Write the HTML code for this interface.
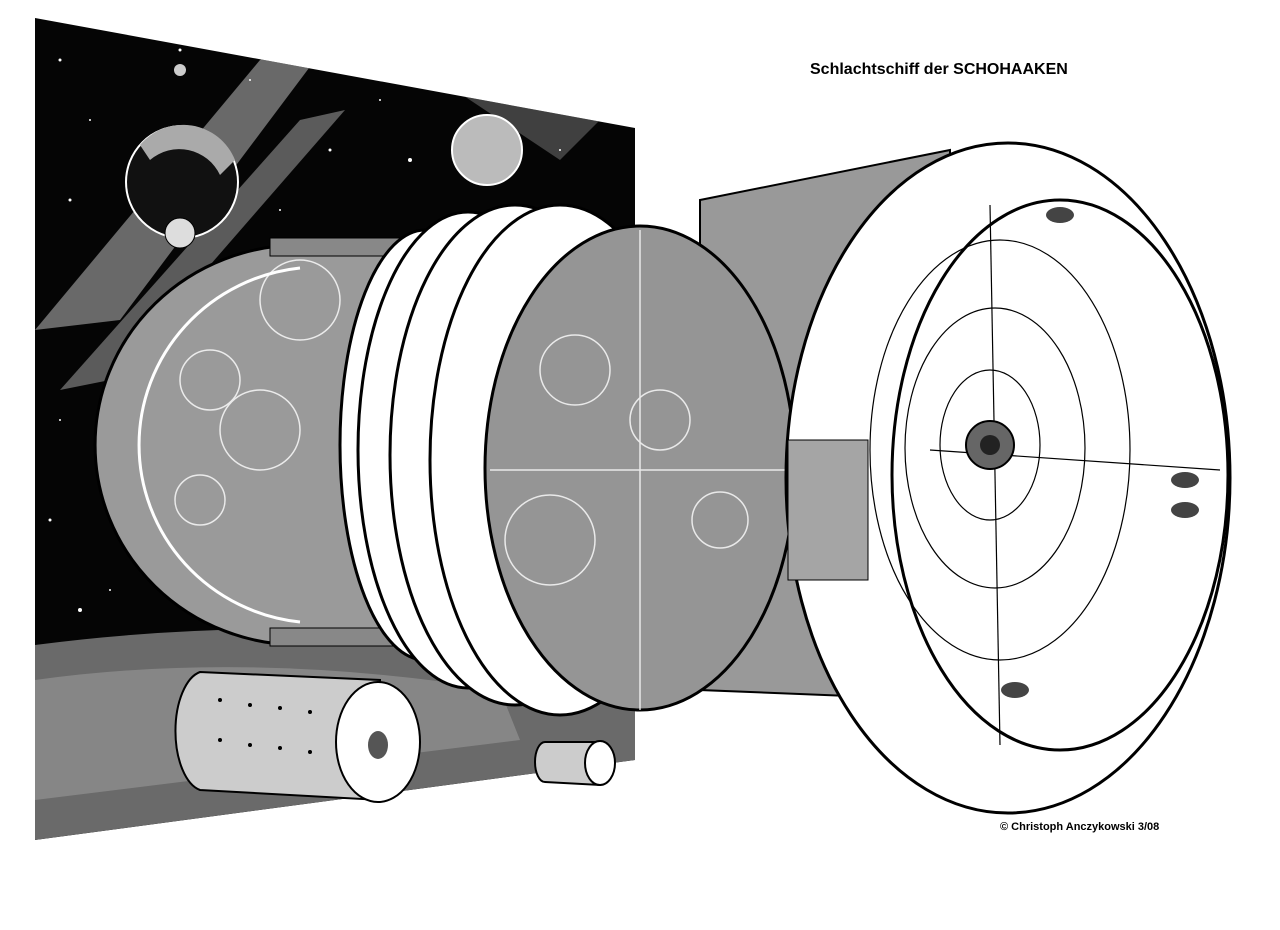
<!DOCTYPE html>
<html><head><meta charset="utf-8"><style>
html,body{margin:0;padding:0;background:#fff;width:1280px;height:930px;overflow:hidden}
svg{display:block}
text{font-family:"Liberation Sans",sans-serif;font-weight:bold;fill:#000}
</style></head><body>
<svg width="1280" height="930" viewBox="0 0 1280 930" xmlns="http://www.w3.org/2000/svg">
<defs><clipPath id="sp"><polygon points="35,18 635,128 635,760 35,840"/></clipPath></defs>
<rect width="1280" height="930" fill="#fff"/>
<polygon points="35,18 635,128 635,760 35,840" fill="#050505"/>
<g clip-path="url(#sp)">
<path d="M35,330 L260,60 L330,40 L120,320 Z" fill="#bbb" opacity="0.55"/>
<path d="M60,390 L300,120 L345,110 L110,380 Z" fill="#ddd" opacity="0.4"/>
<path d="M380,40 L470,20 L600,120 L560,160 Z" fill="#999" opacity="0.4"/>
<path d="M35,645 Q300,610 635,650 L635,760 L35,840 Z" fill="#6a6a6a"/>
<path d="M35,680 Q250,650 500,690 L520,740 L35,800 Z" fill="#9a9a9a" opacity="0.6"/>
</g>
<g fill="#fff">
<circle cx="60" cy="60" r="1.5"/><circle cx="90" cy="120" r="1"/><circle cx="70" cy="200" r="1.5"/><circle cx="250" cy="80" r="1"/>
<circle cx="330" cy="150" r="1.5"/><circle cx="410" cy="160" r="2"/><circle cx="560" cy="150" r="1"/><circle cx="600" cy="220" r="1.5"/>
<circle cx="60" cy="420" r="1"/><circle cx="50" cy="520" r="1.5"/><circle cx="80" cy="610" r="2"/><circle cx="110" cy="590" r="1"/>
<circle cx="280" cy="210" r="1"/><circle cx="380" cy="100" r="1"/><circle cx="180" cy="50" r="1.5"/><circle cx="500" cy="220" r="1"/>
</g>
<circle cx="182" cy="182" r="56" fill="#111" stroke="#fff" stroke-width="2"/>
<path d="M140,145 A56,56 0 0 1 235,160 L220,175 A45,45 0 0 0 150,160Z" fill="#aaa"/>
<circle cx="180" cy="233" r="15" fill="#ddd" stroke="#000"/>
<circle cx="487" cy="150" r="35" fill="#bbb" stroke="#fff" stroke-width="2"/>
<circle cx="180" cy="70" r="6" fill="#ccc"/>
<path d="M420,245 L300,245 A205,200 0 0 0 300,645 L420,645 Z" fill="#9a9a9a" stroke="#000" stroke-width="3"/>
<path d="M300,268 A180,178 0 0 0 300,622" fill="none" stroke="#fff" stroke-width="3"/>
<rect x="270" y="238" width="350" height="18" fill="#888" stroke="#000"/>
<rect x="270" y="628" width="350" height="18" fill="#888" stroke="#000"/>
<ellipse cx="425" cy="445" rx="85" ry="215" fill="#fff" stroke="#000" stroke-width="3"/>
<ellipse cx="468" cy="450" rx="110" ry="238" fill="#fff" stroke="#000" stroke-width="3"/>
<ellipse cx="515" cy="455" rx="125" ry="250" fill="#fff" stroke="#000" stroke-width="3"/>
<ellipse cx="560" cy="460" rx="130" ry="255" fill="#fff" stroke="#000" stroke-width="3"/>
<polygon points="700,200 950,150 950,700 700,690" fill="#999" stroke="#000" stroke-width="2"/>
<ellipse cx="640" cy="468" rx="155" ry="242" fill="#959595" stroke="#000" stroke-width="3"/>
<g stroke="#fff" stroke-width="1.5" fill="none" opacity="0.8">
<circle cx="575" cy="370" r="35"/><circle cx="550" cy="540" r="45"/><circle cx="660" cy="420" r="30"/><circle cx="720" cy="520" r="28"/>
<circle cx="210" cy="380" r="30"/><circle cx="260" cy="430" r="40"/><circle cx="300" cy="300" r="40"/><circle cx="200" cy="500" r="25"/>
<line x1="490" y1="470" x2="790" y2="470"/><line x1="640" y1="230" x2="640" y2="710"/>
</g>
<ellipse cx="1008" cy="478" rx="222" ry="335" fill="#fff" stroke="#000" stroke-width="3"/>
<rect x="788" y="440" width="80" height="140" fill="#a5a5a5" stroke="#000"/>
<ellipse cx="1060" cy="475" rx="168" ry="275" fill="#fff" stroke="#000" stroke-width="3"/>
<g fill="none" stroke="#000" stroke-width="1.2">
<ellipse cx="1000" cy="450" rx="130" ry="210"/>
<ellipse cx="995" cy="448" rx="90" ry="140"/>
<ellipse cx="990" cy="445" rx="50" ry="75"/>
<line x1="930" y1="450" x2="1220" y2="470"/>
<line x1="990" y1="205" x2="1000" y2="745"/>
</g>
<circle cx="990" cy="445" r="24" fill="#666" stroke="#000" stroke-width="2"/>
<circle cx="990" cy="445" r="10" fill="#222"/>
<g fill="#444">
<ellipse cx="1060" cy="215" rx="14" ry="8"/><ellipse cx="1185" cy="480" rx="14" ry="8"/><ellipse cx="1185" cy="510" rx="14" ry="8"/><ellipse cx="1015" cy="690" rx="14" ry="8"/>
</g>
<path d="M200,672 L380,680 L380,800 L200,790 A30,60 0 0 1 200,672Z" fill="#ccc" stroke="#000" stroke-width="2"/>
<ellipse cx="378" cy="742" rx="42" ry="60" fill="#fff" stroke="#000" stroke-width="2"/>
<ellipse cx="378" cy="745" rx="10" ry="14" fill="#555"/>
<path d="M545,742 L600,742 L600,785 L545,782 A10,20 0 0 1 545,742Z" fill="#ccc" stroke="#000" stroke-width="2"/>
<ellipse cx="600" cy="763" rx="15" ry="22" fill="#fff" stroke="#000" stroke-width="2"/>
<g fill="#000"><circle cx="220" cy="700" r="2"/><circle cx="250" cy="705" r="2"/><circle cx="280" cy="708" r="2"/><circle cx="310" cy="712" r="2"/><circle cx="220" cy="740" r="2"/><circle cx="250" cy="745" r="2"/><circle cx="280" cy="748" r="2"/><circle cx="310" cy="752" r="2"/></g>
<text x="810" y="74" font-size="16">Schlachtschiff der SCHOHAAKEN</text>
<text x="1000" y="830" font-size="11">© Christoph Anczykowski   3/08</text>
</svg>
</body></html>
